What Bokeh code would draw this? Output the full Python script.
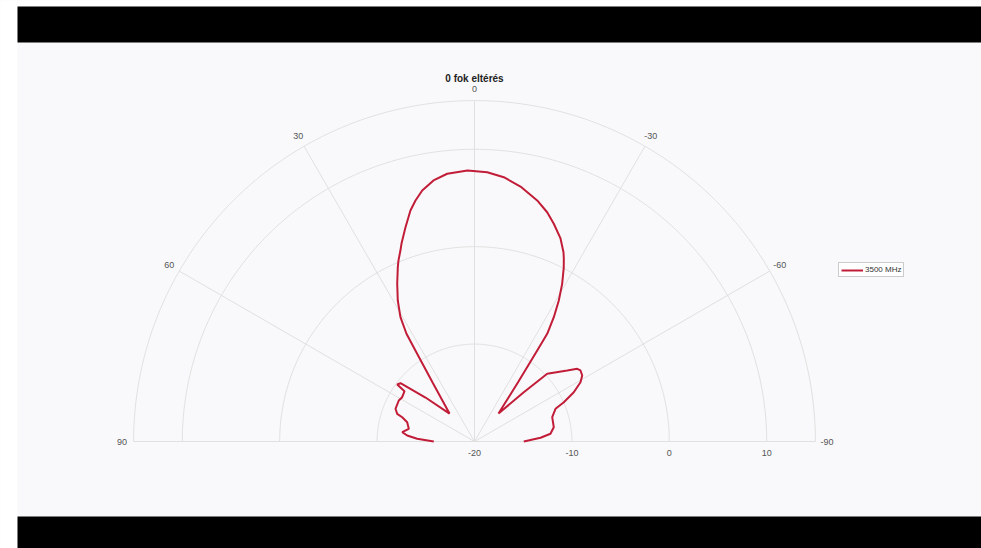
import numpy as np
from bokeh.plotting import figure
from bokeh.models import Legend, LegendItem, Range1d, ColumnDataSource
from bokeh.embed import file_html
from bokeh.resources import INLINE
from bokeh.core.properties import value

# ---------------- data ----------------
title_text = "0 fok eltérés"
series_name = "3500 MHz"

theta_deg = [90, 87.3, 84.9, 82.67, 79.06, 74.0, 71.43, 70.29, 67.5, 61.56, 58.5, 54.3,
             53.6, 51.77, 48.1, 41.8, 35.4, 33.0, 32.27, 30.77, 28.55, 26.11, 23.75,
             22.8, 21.2, 20.24, 17.85, 15.5, 13.76, 11.77, 8.93, 5.82, 1.48, -2.70,
             -6.33, -10.23, -14.58, -17.59, -20.01, -22.96, -25.22, -26.05, -27.13,
             -29.08, -30.87, -32.54, -34.02, -34.57, -36.25, -40.6, -45.0, -47.04,
             -52.55, -54.70, -56.18, -58.5, -60.78, -63.6, -66.24, -68.02, -72.63,
             -79.78, -84.21, -86.79, -90]
gain_db = [-15.82, -14.11, -13.06, -12.52, -13.13, -12.81, -12.17, -11.57, -11.22,
           -11.16, -11.29, -11.15, -10.14, -10.33, -13.24, -16.15, -12.57, -8.86,
           -6.92, -5.14, -3.52, -1.97, -0.45, 0.15, 1.03, 1.66, 3.11, 4.61, 5.47, 6.32,
           7.13, 7.63, 7.83, 7.68, 7.30, 6.60, 5.57, 4.69, 3.79, 2.64, 1.45, 0.88, 0.10,
           -1.48, -3.13, -4.86, -6.66, -8.65, -12.36, -16.21, -12.89, -9.80, -8.01,
           -7.08, -6.90, -7.03, -7.53, -8.62, -9.98, -11.03, -11.64, -11.73, -12.16,
           -13.21, -14.94]

r_ticks = [-20, -10, 0, 10]
r_lim = [-20, 15]
theta_ticks = [90, 60, 30, 0, -30, -60, -90]

# ---------------- layout ----------------
W, H = 981, 548
PX = 9.74            # pixels per dB
CX, CY = 474, 441    # polar centre inside the frame (px from left / top)
x0, x1 = -CX / PX, (W - CX) / PX
y1, y0 = CY / PX, -(H - CY) / PX

FONT = "Liberation Sans"
GRID = "#e0e0e0"
RED = "#c21d38"

p = figure(width=W, height=H, x_range=Range1d(x0, x1), y_range=Range1d(y0, y1),
           output_backend="svg", toolbar_location=None, min_border=0)
p.axis.visible = False
p.grid.visible = False
p.outline_line_color = None
p.background_fill_color = "#f9f9fb"
p.border_fill_color = "#f9f9fb"

# video-frame bars and white edges
p.quad(left=[x0], right=[x0 + 17 / PX], top=[y1], bottom=[y0], color="white", line_color=None)
p.quad(left=[x0 + 17 / PX], right=[x1], top=[y1], bottom=[y1 - 6 / PX], color="white", line_color=None)
p.quad(left=[x0 + 17 / PX], right=[x1], top=[y1 - 6 / PX], bottom=[y1 - 42 / PX], color="black", line_color=None)
p.quad(left=[x0 + 17 / PX], right=[x1], top=[y1 - 516 / PX], bottom=[y0], color="black", line_color=None)

rmin = r_lim[0]
rho_max = r_lim[1] - rmin

# grid arcs
arc_t = np.radians(np.linspace(-90, 90, 361))
for rv in r_ticks[1:] + [r_lim[1]]:
    rho = rv - rmin
    p.line(-rho * np.sin(arc_t), rho * np.cos(arc_t), line_color=GRID, line_width=1)

# spokes
for t in theta_ticks:
    tr = np.radians(t)
    p.line([0, -rho_max * np.sin(tr)], [0, rho_max * np.cos(tr)], line_color=GRID, line_width=1)

# radial tick labels
p.text(x=[rv - rmin for rv in r_ticks], y=[-1.15] * len(r_ticks), text=[str(rv) for rv in r_ticks],
       text_align="center", text_baseline="middle", text_font=value(FONT),
       text_font_size="9px", text_color="#555555")

# angular tick labels
lab_rho = rho_max + 1.2
tt = np.radians(theta_ticks)
p.text(x=list(-lab_rho * np.sin(tt)), y=list(lab_rho * np.cos(tt)), text=[str(t) for t in theta_ticks],
       text_align="center", text_baseline="middle", text_font=value(FONT),
       text_font_size="9px", text_color="#555555")

# title
p.text(x=[0], y=[37.3], text=[title_text], text_align="center", text_baseline="middle",
       text_font=value(FONT), text_font_size="10px", text_font_style="bold", text_color="#222222")

# pattern
th = np.radians(np.array(theta_deg))
rho_v = np.clip(np.array(gain_db) - rmin, 0, None)
src = ColumnDataSource(dict(x=-rho_v * np.sin(th), y=rho_v * np.cos(th)))
line_r = p.line("x", "y", source=src, line_color=RED, line_width=2)

legend = Legend(items=[LegendItem(label=series_name, renderers=[line_r])], location=(838, 271))
legend.border_line_color = "#9a9a9a"
legend.background_fill_color = "white"
legend.background_fill_alpha = 1
legend.label_text_font = FONT
legend.label_text_font_size = "8px"
legend.label_text_color = "#333333"
legend.glyph_width = 22
legend.glyph_height = 8
legend.label_height = 8
legend.label_standoff = 2
legend.padding = 2
legend.margin = 0
legend.spacing = 0
p.add_layout(legend)

open("out.html", "w").write(file_html(p, INLINE))
